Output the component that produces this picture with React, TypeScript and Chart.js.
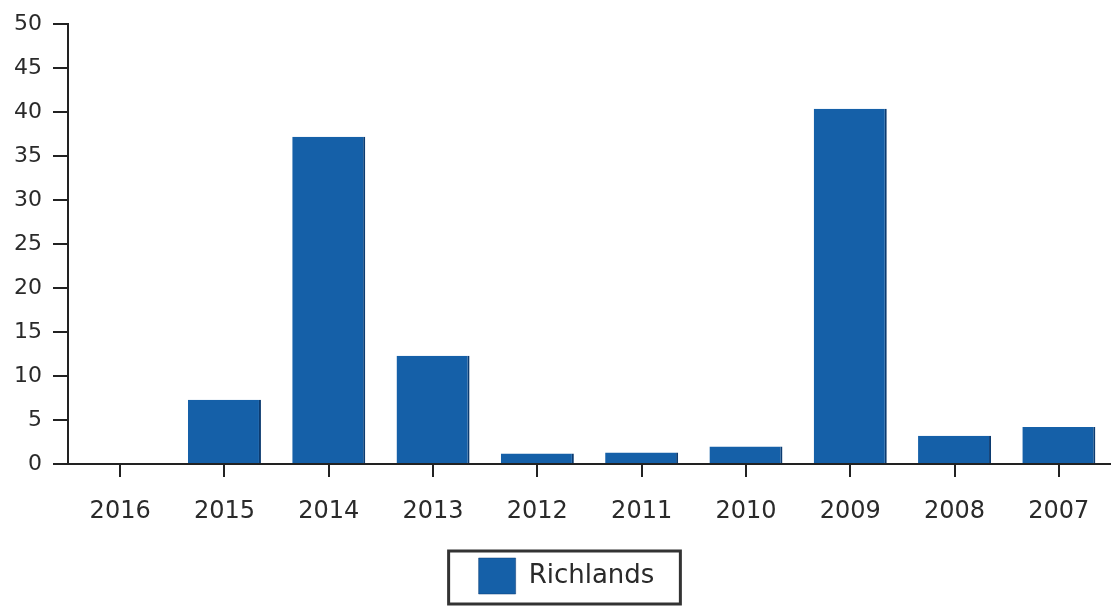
import React, { useEffect, useRef } from "react";
import { Chart, registerables } from "chart.js";

Chart.register(...registerables);

const categories = ["2016", "2015", "2014", "2013", "2012", "2011", "2010", "2009", "2008", "2007"];
const richlandsValues = [0, 7.3, 37.2, 12.3, 1.2, 1.3, 2.0, 40.4, 3.2, 4.2];
const seriesLabel = "Richlands";
const yMin = 0;
const yMax = 50;
const yStep = 5;

const legendShift = 11;

const legendBorder = {
  id: "legendBorder",
  afterLayout(chart: any) {
    const lg = chart.legend;
    if (!lg) return;
    lg.left += legendShift;
    lg.right += legendShift;
    (lg.legendHitBoxes || []).forEach((hb: any) => {
      hb.left += legendShift;
    });
  },
  afterDraw(chart: any) {
    const lg = chart.legend;
    if (!lg || !lg.legendHitBoxes || !lg.legendHitBoxes.length) return;
    const hb = lg.legendHitBoxes[0];
    const ctx = chart.ctx;
    ctx.save();
    ctx.strokeStyle = "#333333";
    ctx.lineWidth = 3;
    ctx.strokeRect(hb.left - 30, hb.top - 7, hb.width + 56, hb.height + 17);
    ctx.restore();
  },
};

export default function App() {
  const ref = useRef<HTMLCanvasElement | null>(null);
  useEffect(() => {
    if (!ref.current) return;
    const chart = new Chart(ref.current, {
      type: "bar",
      data: {
        labels: categories,
        datasets: [
          {
            label: seriesLabel,
            data: richlandsValues,
            backgroundColor: "#1560a8",
            borderColor: "#0c3b70",
            borderWidth: { top: 0, right: 2, bottom: 0, left: 0 },
            barPercentage: 0.7,
            categoryPercentage: 1.0,
          },
        ],
      },
      options: {
        responsive: false,
        animation: false,
        layout: { padding: { top: 19, left: 0, right: 0, bottom: 2 } },
        plugins: {
          tooltip: { enabled: false },
          legend: {
            position: "bottom",
            labels: {
              boxWidth: 37,
              boxHeight: 36,
              color: "#2a2a2a",
              font: { family: "'DejaVu Sans', Verdana, sans-serif", size: 26 },
              padding: 10,
            },
          },
        },
        scales: {
          x: {
            offset: true,
            afterFit: (s: any) => {
              s.height = 84;
            },
            grid: {
              offset: false,
              drawOnChartArea: false,
              drawTicks: true,
              tickLength: 13,
              color: "#222222",
              lineWidth: 2,
            },
            border: { display: true, color: "#222222", width: 2 },
            ticks: {
              color: "#2a2a2a",
              font: { family: "'DejaVu Sans', Verdana, sans-serif", size: 24 },
              padding: 20,
              maxRotation: 0,
            },
          },
          y: {
            min: yMin,
            max: yMax,
            afterFit: (s: any) => {
              s.width = 68;
            },
            grid: {
              drawOnChartArea: false,
              drawTicks: true,
              tickLength: 15,
              color: "#222222",
              lineWidth: 2,
            },
            border: { display: true, color: "#222222", width: 2 },
            ticks: {
              stepSize: yStep,
              color: "#2a2a2a",
              font: { family: "'DejaVu Sans', Verdana, sans-serif", size: 22 },
              padding: 11,
            },
          },
        },
      },
      plugins: [legendBorder],
    });
    return () => chart.destroy();
  }, []);
  return (
    <div style={{ position: "absolute", left: 0, top: 0, width: 1111, height: 606, background: "#fff" }}>
      <canvas ref={ref} width={1111} height={606} style={{ display: "block" }} />
    </div>
  );
}
